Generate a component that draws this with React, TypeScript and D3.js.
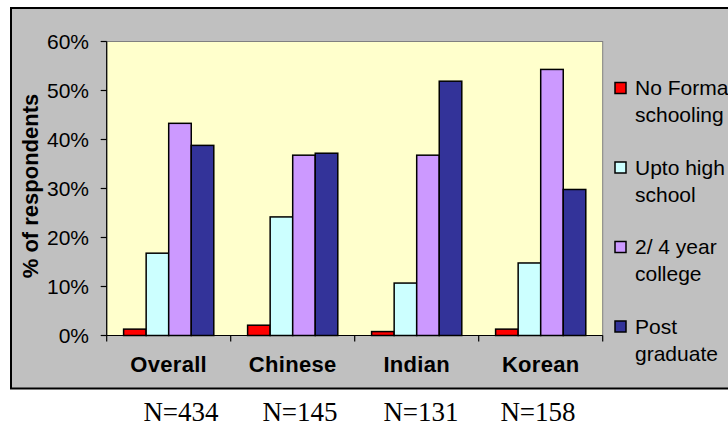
import React from 'react';
import * as d3 from 'd3';

// Education level by group, percent of respondents
const categories = ['Overall', 'Chinese', 'Indian', 'Korean'];
const sampleSizes = ['N=434', 'N=145', 'N=131', 'N=158'];
const seriesKeys = ['noFormal', 'uptoHigh', 'college', 'postGrad'];
const legendLines = [
  ['No Formal', 'schooling'],
  ['Upto high', 'school'],
  ['2/ 4 year', 'college'],
  ['Post', 'graduate'],
];
const seriesColors = ['#FF0000', '#CCFFFF', '#CC99FF', '#333399'];
const noFormal = [1.3, 2.1, 0.8, 1.3];
const uptoHigh = [16.8, 24.2, 10.7, 14.8];
const college = [43.3, 36.8, 36.8, 54.3];
const postGrad = [38.8, 37.2, 51.9, 29.8];
const yTicks = [0, 10, 20, 30, 40, 50, 60];

const seriesValues = [noFormal, uptoHigh, college, postGrad];

const W = 728;
const H = 435;
const plot = { left: 106.7, right: 602.7, top: 41.5, bottom: 335.5 };
const SANS = '"Liberation Sans", Arial, sans-serif';
const SERIF = '"Liberation Serif", "Times New Roman", serif';
const nCenters = [181, 300, 421, 538];

export default function App() {
  const x = d3.scaleBand<string>().domain(categories).range([plot.left, plot.right]).padding(0);
  const inner = d3
    .scaleBand<string>()
    .domain(seriesKeys)
    .range([0, x.bandwidth()])
    .paddingInner(0)
    .paddingOuter(0.75);
  const y = d3.scaleLinear().domain([0, 60]).range([plot.bottom, plot.top]);

  const boundaries = [...categories.map((c) => x(c) as number), plot.right];

  const legendX = 615;
  const legendY0 = 88;
  const legendStep = 79.5;

  return (
    <svg
      width={W}
      height={H}
      style={{ position: 'fixed', left: 0, top: 0, background: '#ffffff' }}
    >
      {/* chart frame */}
      <rect x={11} y={8} width={740} height={380.5} fill="#C0C0C0" stroke="#000" strokeWidth={2} />

      {/* plot area */}
      <rect
        x={plot.left}
        y={plot.top}
        width={plot.right - plot.left}
        height={plot.bottom - plot.top}
        fill="#FFFFCC"
        stroke="#808080"
        strokeWidth={1}
      />

      {/* bars */}
      {categories.map((cat, ci) =>
        seriesKeys.map((key, si) => {
          const v = seriesValues[si][ci];
          const bx = (x(cat) as number) + (inner(key) as number);
          return (
            <rect
              key={cat + key}
              x={bx}
              y={y(v)}
              width={inner.bandwidth()}
              height={y(0) - y(v)}
              fill={seriesColors[si]}
              stroke="#000"
              strokeWidth={1.5}
            />
          );
        })
      )}

      {/* y axis */}
      <line x1={plot.left} x2={plot.left} y1={plot.top} y2={plot.bottom} stroke="#000" strokeWidth={1.2} />
      {yTicks.map((t) => (
        <g key={t}>
          <line x1={plot.left - 6} x2={plot.left} y1={y(t)} y2={y(t)} stroke="#000" strokeWidth={1.2} />
          <text
            x={89}
            y={y(t)}
            dy="0.35em"
            textAnchor="end"
            fontFamily={SANS}
            fontSize={21}
            fill="#000"
          >
            {`${t}%`}
          </text>
        </g>
      ))}

      {/* x axis */}
      <line x1={plot.left} x2={plot.right} y1={plot.bottom} y2={plot.bottom} stroke="#000" strokeWidth={1.2} />
      {boundaries.map((bx, i) => (
        <line key={i} x1={bx} x2={bx} y1={plot.bottom} y2={plot.bottom + 6} stroke="#000" strokeWidth={1.2} />
      ))}
      {categories.map((cat) => (
        <text
          key={cat}
          x={(x(cat) as number) + x.bandwidth() / 2}
          y={372}
          textAnchor="middle"
          fontFamily={SANS}
          fontWeight="bold"
          fontSize={22}
          letterSpacing={0.3}
          fill="#000"
        >
          {cat}
        </text>
      ))}

      {/* y axis title */}
      <text
        transform={`translate(38,186) rotate(-90)`}
        textAnchor="middle"
        fontFamily={SANS}
        fontWeight="bold"
        fontSize={22}
        fill="#000"
      >
        % of respondents
      </text>

      {/* legend */}
      {legendLines.map((lines, i) => {
        const cy = legendY0 + i * legendStep;
        return (
          <g key={i}>
            <rect x={legendX} y={cy - 5.5} width={11} height={11} fill={seriesColors[i]} stroke="#000" strokeWidth={1.5} />
            {lines.map((ln, li) => (
              <text
                key={li}
                x={635}
                y={cy + 7 + li * 27}
                fontFamily={SANS}
                fontSize={21}
                fill="#000"
              >
                {ln}
              </text>
            ))}
          </g>
        );
      })}

      {/* sample sizes under the chart */}
      {sampleSizes.map((n, i) => (
        <text
          key={n}
          x={nCenters[i]}
          y={421}
          textAnchor="middle"
          fontFamily={SERIF}
          fontSize={27}
          fill="#000"
        >
          {n}
        </text>
      ))}
    </svg>
  );
}
